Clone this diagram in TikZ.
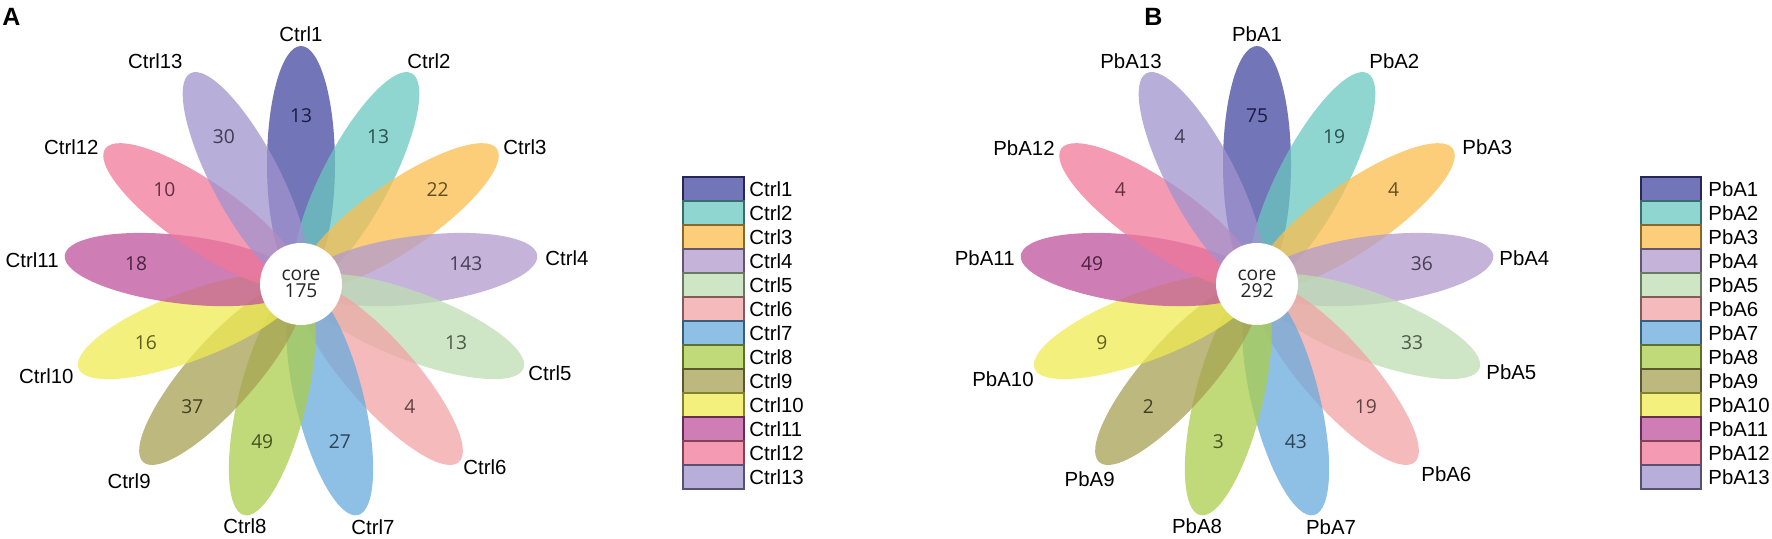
\documentclass[tikz,border=0pt]{standalone}
\usepackage{fontspec}
\setmainfont{Liberation Sans}
\newfontfamily\petalfont{Open Sans}

\definecolor{c1}{RGB}{67,71,160}
\definecolor{c2}{RGB}{106,199,192}
\definecolor{c3}{RGB}{251,190,78}
\definecolor{c4}{RGB}{178,154,206}
\definecolor{c5}{RGB}{191,222,179}
\definecolor{c6}{RGB}{242,163,164}
\definecolor{c7}{RGB}{104,171,222}
\definecolor{c8}{RGB}{171,206,78}
\definecolor{c9}{RGB}{167,160,83}
\definecolor{c10}{RGB}{239,235,82}
\definecolor{c11}{RGB}{190,82,156}
\definecolor{c12}{RGB}{240,120,154}
\definecolor{c13}{RGB}{160,147,206}

\tikzset{
  petal/.style={fill=#1, fill opacity=0.75},
  lab/.style={font=\fontsize{10.2}{11}\selectfont, inner sep=0pt},
  num/.style={font=\petalfont\fontsize{9.6}{10}\selectfont, text=#1!40!black},
  key/.style={fill=#1, fill opacity=0.75, draw=#1!55!black, line width=0.6pt},
  core/.style={circle, fill=white, minimum size=41pt, inner sep=0pt, align=center,
    text=black!85, font=\petalfont\fontsize{9.6}{8.6}\selectfont},
  panel/.style={font=\bfseries\fontsize{12.5}{12.5}\selectfont, anchor=north west, inner sep=0pt}
}

% one petal: angle, colour
\newcommand{\petal}[2]{\fill[petal=#2, rotate=#1] (120,0) ellipse [x radius=59pt, y radius=17pt];}

\begin{document}
\begin{tikzpicture}[x=0.5pt, y=0.5pt]
  \useasboundingbox (0,0) rectangle (1772,538);

  \node[panel] (pa) at (2,530) {A};
  \node[panel] (pb) at (1144,530) {B};

  % flower A
  \begin{scope}[shift={(301,254)}]
    \petal{90}{c1}
    \petal{62.31}{c2}
    \petal{34.62}{c3}
    \petal{6.92}{c4}
    \petal{-20.77}{c5}
    \petal{-48.46}{c6}
    \petal{-76.15}{c7}
    \petal{-103.85}{c8}
    \petal{-131.54}{c9}
    \petal{-159.23}{c10}
    \petal{173.08}{c11}
    \petal{145.38}{c12}
    \petal{117.69}{c13}
    \node[core] (a-core) at (0,0) {core\\175};
    \node[num=c1] (a-n1) at (90:168) {13};
    \node[num=c2] (a-n2) at (62.31:166) {13};
    \node[num=c3] (a-n3) at (34.62:166) {22};
    \node[num=c4] (a-n4) at (6.92:166) {143};
    \node[num=c5] (a-n5) at (-20.77:166) {13};
    \node[num=c6] (a-n6) at (-48.46:164) {4};
    \node[num=c7] (a-n7) at (-76.15:162) {27};
    \node[num=c8] (a-n8) at (-103.85:162) {49};
    \node[num=c9] (a-n9) at (-131.54:164) {37};
    \node[num=c10] (a-n10) at (-159.23:166) {16};
    \node[num=c11] (a-n11) at (173.08:166) {18};
    \node[num=c12] (a-n12) at (145.38:166) {10};
    \node[num=c13] (a-n13) at (117.69:166) {30};
    \node[lab, anchor=south] (a-l1) at (0,242) {Ctrl1};
    \node[lab, anchor=west] (a-l2) at (106,223) {Ctrl2};
    \node[lab, anchor=west] (a-l3) at (202,137) {Ctrl3};
    \node[lab, anchor=west] (a-l4) at (244,26) {Ctrl4};
    \node[lab, anchor=west] (a-l5) at (227,-89) {Ctrl5};
    \node[lab, anchor=west] (a-l6) at (162,-183) {Ctrl6};
    \node[lab, anchor=north] (a-l7) at (72,-235) {Ctrl7};
    \node[lab, anchor=north] (a-l8) at (-56,-234) {Ctrl8};
    \node[lab, anchor=east] (a-l9) at (-150,-197) {Ctrl9};
    \node[lab, anchor=east] (a-l10) at (-227,-92) {Ctrl10};
    \node[lab, anchor=east] (a-l11) at (-242,24) {Ctrl11};
    \node[lab, anchor=east] (a-l12) at (-202,137) {Ctrl12};
    \node[lab, anchor=east] (a-l13) at (-118,223) {Ctrl13};
  \end{scope}

  % legend A
  \filldraw[key=c1] (683,361) rectangle (744,337);
  \filldraw[key=c2] (683,337) rectangle (744,313);
  \filldraw[key=c3] (683,313) rectangle (744,289);
  \filldraw[key=c4] (683,289) rectangle (744,265);
  \filldraw[key=c5] (683,265) rectangle (744,241);
  \filldraw[key=c6] (683,241) rectangle (744,217);
  \filldraw[key=c7] (683,217) rectangle (744,193);
  \filldraw[key=c8] (683,193) rectangle (744,169);
  \filldraw[key=c9] (683,169) rectangle (744,145);
  \filldraw[key=c10] (683,145) rectangle (744,121);
  \filldraw[key=c11] (683,121) rectangle (744,97);
  \filldraw[key=c12] (683,97) rectangle (744,73);
  \filldraw[key=c13] (683,73) rectangle (744,49);
  \node[lab, anchor=west] (a-k1) at (749,349) {Ctrl1};
  \node[lab, anchor=west] (a-k2) at (749,325) {Ctrl2};
  \node[lab, anchor=west] (a-k3) at (749,301) {Ctrl3};
  \node[lab, anchor=west] (a-k4) at (749,277) {Ctrl4};
  \node[lab, anchor=west] (a-k5) at (749,253) {Ctrl5};
  \node[lab, anchor=west] (a-k6) at (749,229) {Ctrl6};
  \node[lab, anchor=west] (a-k7) at (749,205) {Ctrl7};
  \node[lab, anchor=west] (a-k8) at (749,181) {Ctrl8};
  \node[lab, anchor=west] (a-k9) at (749,157) {Ctrl9};
  \node[lab, anchor=west] (a-k10) at (749,133) {Ctrl10};
  \node[lab, anchor=west] (a-k11) at (749,109) {Ctrl11};
  \node[lab, anchor=west] (a-k12) at (749,85) {Ctrl12};
  \node[lab, anchor=west] (a-k13) at (749,61) {Ctrl13};

  % flower B
  \begin{scope}[shift={(1257,254)}]
    \petal{90}{c1}
    \petal{62.31}{c2}
    \petal{34.62}{c3}
    \petal{6.92}{c4}
    \petal{-20.77}{c5}
    \petal{-48.46}{c6}
    \petal{-76.15}{c7}
    \petal{-103.85}{c8}
    \petal{-131.54}{c9}
    \petal{-159.23}{c10}
    \petal{173.08}{c11}
    \petal{145.38}{c12}
    \petal{117.69}{c13}
    \node[core] (b-core) at (0,0) {core\\292};
    \node[num=c1] (b-n1) at (90:168) {75};
    \node[num=c2] (b-n2) at (62.31:166) {19};
    \node[num=c3] (b-n3) at (34.62:166) {4};
    \node[num=c4] (b-n4) at (6.92:166) {36};
    \node[num=c5] (b-n5) at (-20.77:166) {33};
    \node[num=c6] (b-n6) at (-48.46:164) {19};
    \node[num=c7] (b-n7) at (-76.15:162) {43};
    \node[num=c8] (b-n8) at (-103.85:162) {3};
    \node[num=c9] (b-n9) at (-131.54:164) {2};
    \node[num=c10] (b-n10) at (-159.23:166) {9};
    \node[num=c11] (b-n11) at (173.08:166) {49};
    \node[num=c12] (b-n12) at (145.38:166) {4};
    \node[num=c13] (b-n13) at (117.69:166) {4};
    \node[lab, anchor=south] (b-l1) at (0,242) {PbA1};
    \node[lab, anchor=west] (b-l2) at (112,223) {PbA2};
    \node[lab, anchor=west] (b-l3) at (205,137) {PbA3};
    \node[lab, anchor=west] (b-l4) at (242,26) {PbA4};
    \node[lab, anchor=west] (b-l5) at (229,-88) {PbA5};
    \node[lab, anchor=west] (b-l6) at (164,-190) {PbA6};
    \node[lab, anchor=north] (b-l7) at (74,-235) {PbA7};
    \node[lab, anchor=north] (b-l8) at (-60,-234) {PbA8};
    \node[lab, anchor=east] (b-l9) at (-142,-195) {PbA9};
    \node[lab, anchor=east] (b-l10) at (-223,-95) {PbA10};
    \node[lab, anchor=east] (b-l11) at (-242,26) {PbA11};
    \node[lab, anchor=east] (b-l12) at (-202,136) {PbA12};
    \node[lab, anchor=east] (b-l13) at (-95,223) {PbA13};
  \end{scope}

  % legend B
  \filldraw[key=c1] (1641,361) rectangle (1701,337);
  \filldraw[key=c2] (1641,337) rectangle (1701,313);
  \filldraw[key=c3] (1641,313) rectangle (1701,289);
  \filldraw[key=c4] (1641,289) rectangle (1701,265);
  \filldraw[key=c5] (1641,265) rectangle (1701,241);
  \filldraw[key=c6] (1641,241) rectangle (1701,217);
  \filldraw[key=c7] (1641,217) rectangle (1701,193);
  \filldraw[key=c8] (1641,193) rectangle (1701,169);
  \filldraw[key=c9] (1641,169) rectangle (1701,145);
  \filldraw[key=c10] (1641,145) rectangle (1701,121);
  \filldraw[key=c11] (1641,121) rectangle (1701,97);
  \filldraw[key=c12] (1641,97) rectangle (1701,73);
  \filldraw[key=c13] (1641,73) rectangle (1701,49);
  \node[lab, anchor=west] (b-k1) at (1708,349) {PbA1};
  \node[lab, anchor=west] (b-k2) at (1708,325) {PbA2};
  \node[lab, anchor=west] (b-k3) at (1708,301) {PbA3};
  \node[lab, anchor=west] (b-k4) at (1708,277) {PbA4};
  \node[lab, anchor=west] (b-k5) at (1708,253) {PbA5};
  \node[lab, anchor=west] (b-k6) at (1708,229) {PbA6};
  \node[lab, anchor=west] (b-k7) at (1708,205) {PbA7};
  \node[lab, anchor=west] (b-k8) at (1708,181) {PbA8};
  \node[lab, anchor=west] (b-k9) at (1708,157) {PbA9};
  \node[lab, anchor=west] (b-k10) at (1708,133) {PbA10};
  \node[lab, anchor=west] (b-k11) at (1708,109) {PbA11};
  \node[lab, anchor=west] (b-k12) at (1708,85) {PbA12};
  \node[lab, anchor=west] (b-k13) at (1708,61) {PbA13};
\end{tikzpicture}
\end{document}
